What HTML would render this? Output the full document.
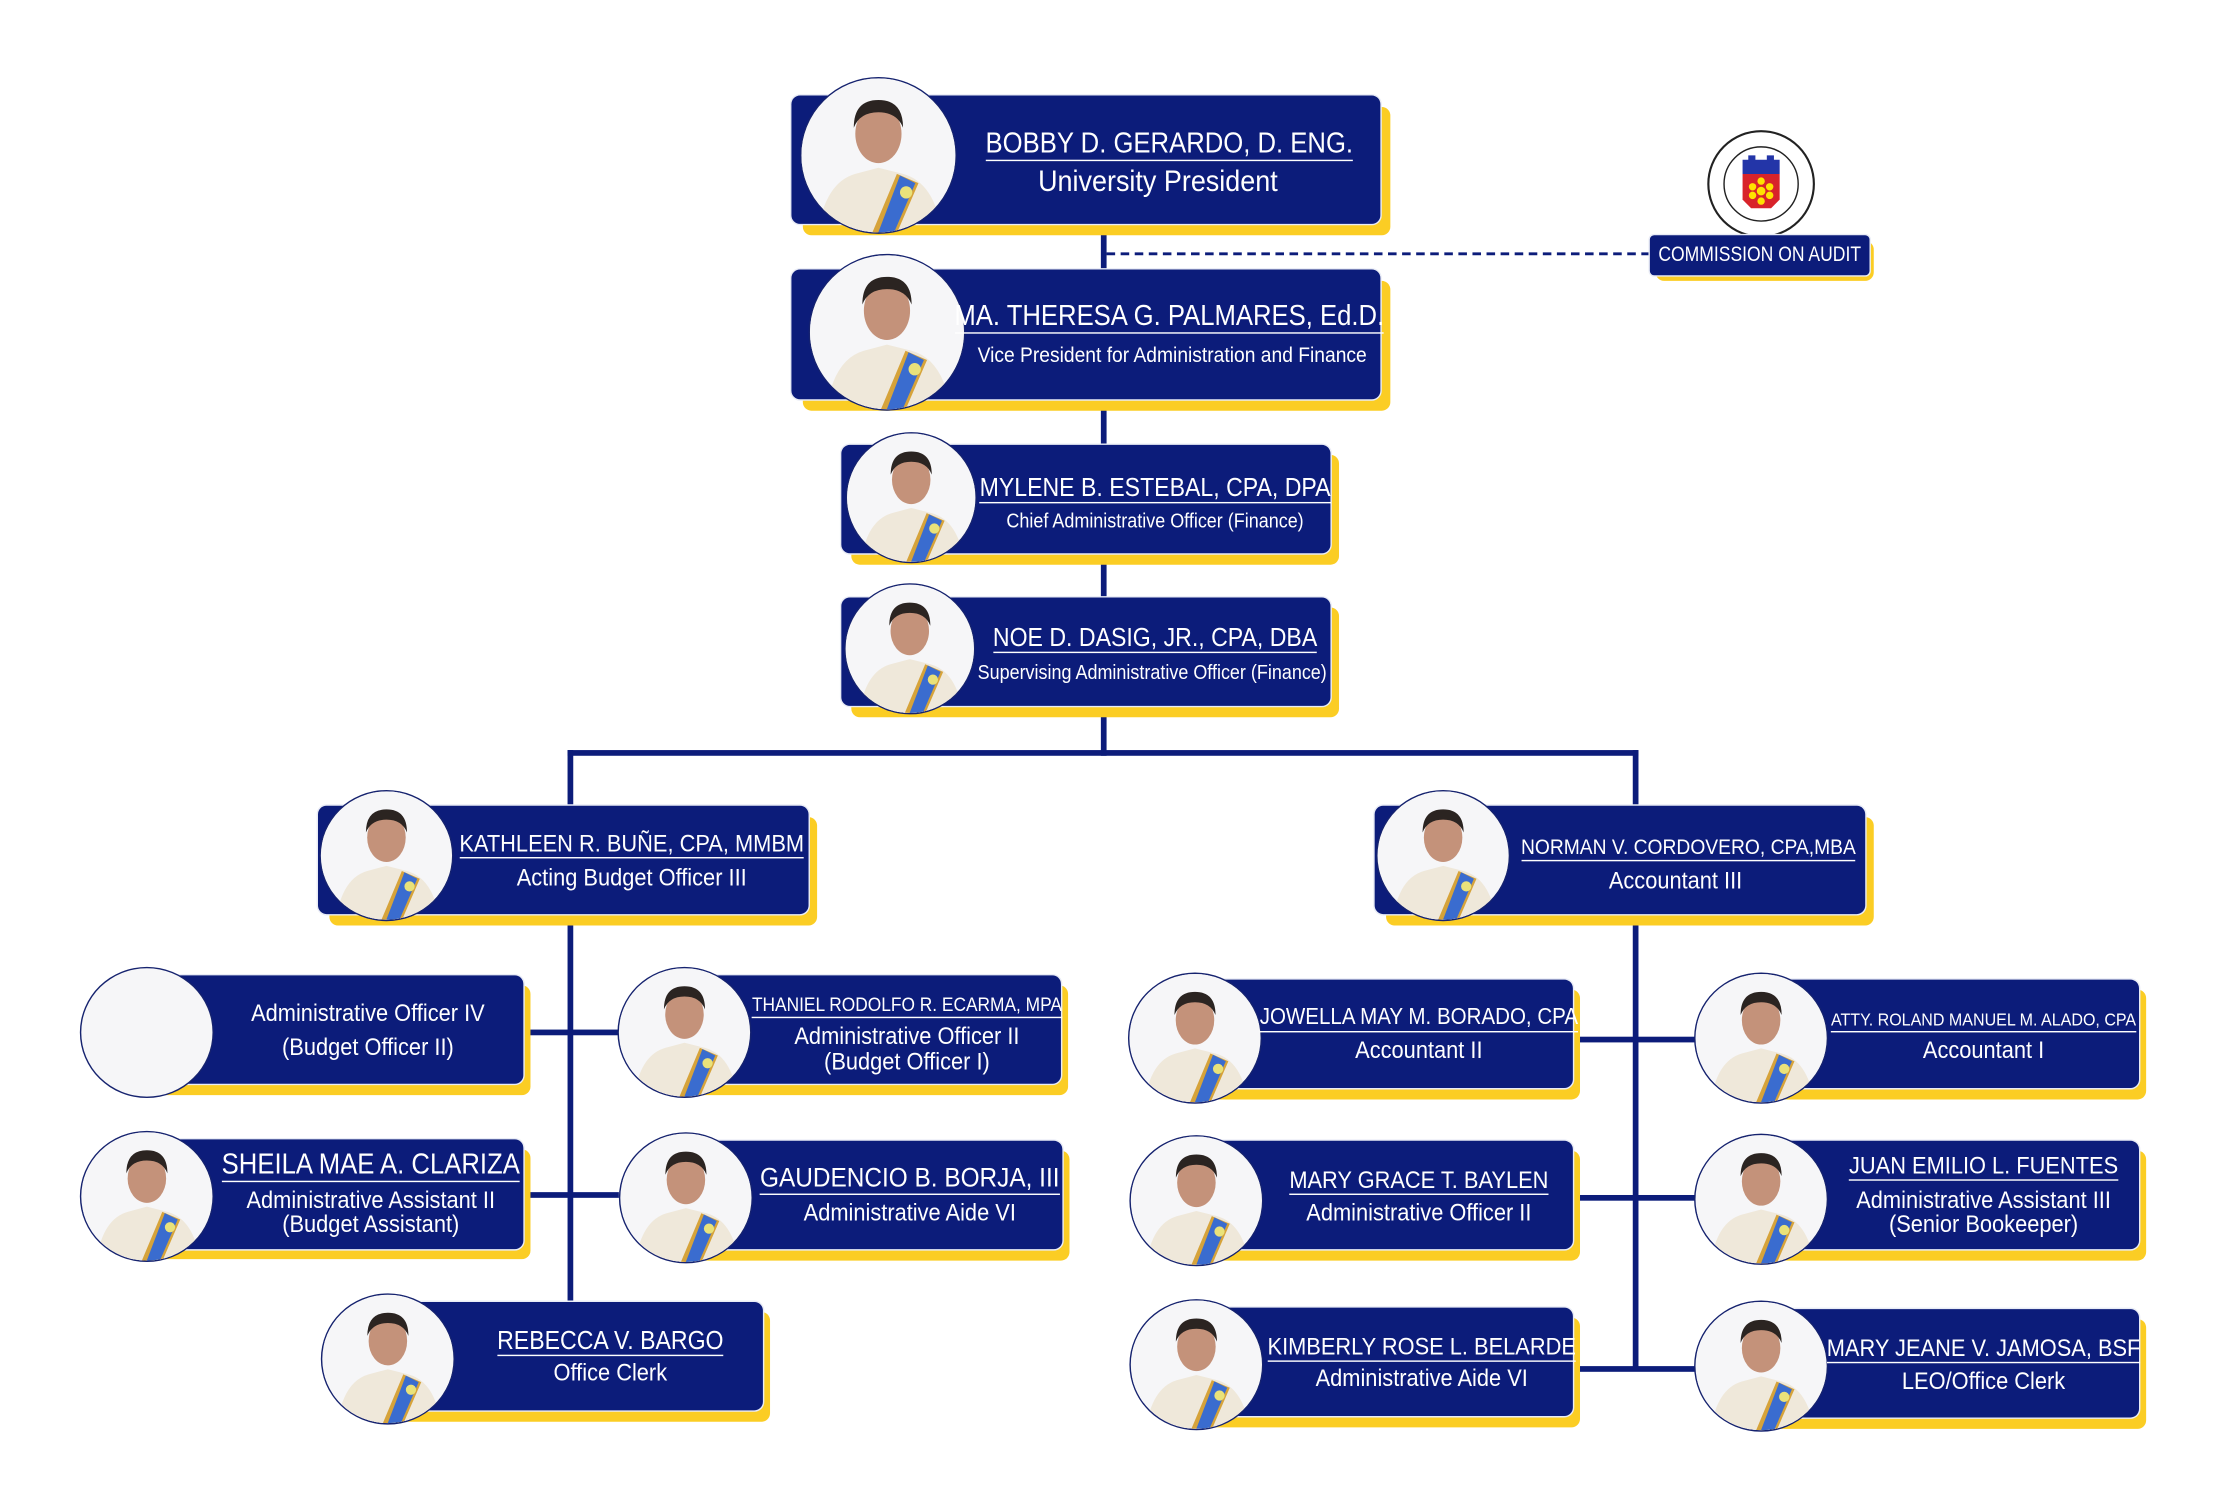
<!DOCTYPE html>
<html><head><meta charset="utf-8">
<style>
html,body{margin:0;padding:0;background:#fff;width:2238px;height:1496px;overflow:hidden}
#w{position:absolute;left:0;top:0;width:1556px;height:1040px;transform:scale(1.426);transform-origin:0 0;font-family:"Liberation Sans",sans-serif;}
.y{position:absolute;background:#fbcd24;border-radius:6px}
.c{position:absolute;background:#0c1c7a;border-radius:6px;box-shadow:0 0 0 1px #e9ecf6}
.p{position:absolute;border-radius:50%;border:1.5px solid #16236f;background:#f6f6f8;overflow:hidden;box-sizing:border-box}
.p svg{width:100%;height:100%;display:block}
.t{position:absolute;width:440px;margin-left:-220px;text-align:center;white-space:nowrap;color:#fff;line-height:1;transform:scaleX(0.9);transform-origin:50% 0}
.n span{display:inline-block;border-bottom:1.3px solid #fff;padding-bottom:1px}
.l{position:absolute;background:#0c1c7a}
</style></head><body>
<svg width="0" height="0" style="position:absolute">
<defs>
<symbol id="ph" viewBox="0 0 100 100">
<rect width="100" height="100" fill="#f6f6f8"/>
<path d="M10 105 Q14 68 35 62 L50 58 L66 62 Q88 68 92 105 Z" fill="#efe8da"/>
<ellipse cx="50" cy="36" rx="15" ry="19" fill="#c4927a"/>
<path d="M34 32 Q34 14 50 14 Q66 14 66 32 Q62 22 50 22 Q38 22 34 32 Z" fill="#2b2421"/>
<path d="M62 62 L76 68 L60 105 L44 105 Z" fill="#d6a33a"/>
<path d="M64 63 L74 68 L58 105 L48 105 Z" fill="#3a6ccf"/>
<circle cx="68" cy="74" r="4" fill="#e9e27a"/>
</symbol>
</defs></svg>
<div id="w">
<!-- lines -->
<div class="l" style="left:772px;top:157px;width:4px;height:373px"></div>
<div style="position:absolute;left:776px;top:177px;width:381px;border-top:2.5px dashed #0c1c7a"></div>
<div class="l" style="left:398px;top:526px;width:751px;height:4px"></div>
<div class="l" style="left:398px;top:526px;width:4px;height:42px"></div>
<div class="l" style="left:1145px;top:526px;width:4px;height:42px"></div>
<div class="l" style="left:398px;top:640px;width:4px;height:272px"></div>
<div class="l" style="left:370px;top:722px;width:64px;height:4px"></div>
<div class="l" style="left:370px;top:836px;width:64px;height:4px"></div>
<div class="l" style="left:1145px;top:640px;width:4px;height:321px"></div>
<div class="l" style="left:1105px;top:727px;width:85px;height:4px"></div>
<div class="l" style="left:1105px;top:838px;width:85px;height:4px"></div>
<div class="l" style="left:1105px;top:958px;width:85px;height:4px"></div>

<!-- President -->
<div class="y" style="left:563px;top:75px;width:412px;height:90px"></div>
<div class="c" style="left:555px;top:67px;width:413px;height:90px"></div>
<div class="p" style="left:561px;top:54px;width:110px;height:110px"><svg><use href="#ph"/></svg></div>
<div class="t n" style="left:820px;top:91px;font-size:20px"><span>BOBBY D. GERARDO, D. ENG.</span></div>
<div class="t" style="left:812px;top:117px;font-size:21px">University President</div>

<!-- COA -->
<svg style="position:absolute;left:1196px;top:90px" width="78" height="78" viewBox="0 0 78 78">
<circle cx="39" cy="39" r="37" fill="#fff" stroke="#222" stroke-width="1.5"/>
<circle cx="39" cy="39" r="26" fill="#fff" stroke="#222" stroke-width="1"/>
<path d="M26 22 L30 22 L30 19 L35 19 L35 22 L43 22 L43 19 L48 19 L48 22 L52 22 L52 32 L26 32 Z" fill="#2335a8"/>
<path d="M26 32 L52 32 L52 50 L46 56 L32 56 L26 50 Z" fill="#d8232a"/>
<circle cx="39" cy="44" r="3" fill="#ffe200"/><circle cx="33" cy="41" r="2.6" fill="#ffe200"/><circle cx="45" cy="41" r="2.6" fill="#ffe200"/><circle cx="33" cy="47" r="2.6" fill="#ffe200"/><circle cx="45" cy="47" r="2.6" fill="#ffe200"/><circle cx="39" cy="37" r="2.6" fill="#ffe200"/><circle cx="39" cy="51" r="2.6" fill="#ffe200"/>
</svg>
<div class="y" style="left:1161px;top:169px;width:153px;height:28px"></div>
<div class="c" style="left:1157px;top:165px;width:154px;height:28px;border-radius:3px"></div>
<div class="t" style="left:1234px;top:171px;font-size:15px;transform:scaleX(0.82)">COMMISSION ON AUDIT</div>

<!-- VP -->
<div class="y" style="left:563px;top:197px;width:412px;height:91px"></div>
<div class="c" style="left:555px;top:189px;width:413px;height:91px"></div>
<div class="p" style="left:567px;top:178px;width:110px;height:110px"><svg><use href="#ph"/></svg></div>
<div class="t n" style="left:820px;top:212px;font-size:20px"><span>MA. THERESA G. PALMARES, Ed.D.</span></div>
<div class="t" style="left:822px;top:242px;font-size:15px">Vice President for Administration and Finance</div>

<!-- Mylene -->
<div class="y" style="left:597px;top:319px;width:342px;height:77px"></div>
<div class="c" style="left:590px;top:312px;width:343px;height:76px"></div>
<div class="p" style="left:593px;top:303px;width:92px;height:92px"><svg><use href="#ph"/></svg></div>
<div class="t n" style="left:810px;top:333px;font-size:18px"><span>MYLENE B. ESTEBAL, CPA, DPA</span></div>
<div class="t" style="left:810px;top:358px;font-size:14px">Chief Administrative Officer (Finance)</div>

<!-- Noe -->
<div class="y" style="left:597px;top:426px;width:342px;height:77px"></div>
<div class="c" style="left:590px;top:419px;width:343px;height:76px"></div>
<div class="p" style="left:592px;top:409px;width:92px;height:92px"><svg><use href="#ph"/></svg></div>
<div class="t n" style="left:810px;top:438px;font-size:18px"><span>NOE D. DASIG, JR., CPA, DBA</span></div>
<div class="t" style="left:808px;top:464px;font-size:14px">Supervising Administrative Officer (Finance)</div>

<!-- Kathleen -->
<div class="y" style="left:231px;top:573px;width:342px;height:76px"></div>
<div class="c" style="left:223px;top:565px;width:344px;height:76px"></div>
<div class="p" style="left:224px;top:554px;width:94px;height:92px"><svg><use href="#ph"/></svg></div>
<div class="t n" style="left:443px;top:583px;font-size:17px"><span>KATHLEEN R. BUÑE, CPA, MMBM</span></div>
<div class="t" style="left:443px;top:607px;font-size:17px">Acting Budget Officer III</div>

<!-- Norman -->
<div class="y" style="left:972px;top:573px;width:342px;height:76px"></div>
<div class="c" style="left:964px;top:565px;width:344px;height:76px"></div>
<div class="p" style="left:965px;top:554px;width:94px;height:92px"><svg><use href="#ph"/></svg></div>
<div class="t n" style="left:1184px;top:587px;font-size:15px"><span>NORMAN V. CORDOVERO, CPA,MBA</span></div>
<div class="t" style="left:1175px;top:609px;font-size:17px">Accountant III</div>

<!-- Admin Officer IV -->
<div class="y" style="left:106px;top:691px;width:266px;height:77px"></div>
<div class="c" style="left:100px;top:684px;width:267px;height:76px"></div>
<div class="p" style="left:56px;top:678px;width:94px;height:92px"></div>
<div class="t" style="left:258px;top:702px;font-size:17px">Administrative Officer IV</div>
<div class="t" style="left:258px;top:726px;font-size:17px">(Budget Officer II)</div>

<!-- Thaniel -->
<div class="y" style="left:486px;top:691px;width:263px;height:77px"></div>
<div class="c" style="left:480px;top:684px;width:264px;height:76px"></div>
<div class="p" style="left:433px;top:678px;width:94px;height:92px"><svg><use href="#ph"/></svg></div>
<div class="t n" style="left:636px;top:698px;font-size:13.5px"><span>THANIEL RODOLFO R. ECARMA, MPA</span></div>
<div class="t" style="left:636px;top:718px;font-size:17px">Administrative Officer II</div>
<div class="t" style="left:636px;top:736px;font-size:17px">(Budget Officer I)</div>

<!-- Sheila -->
<div class="y" style="left:106px;top:806px;width:266px;height:77px"></div>
<div class="c" style="left:100px;top:799px;width:267px;height:77px"></div>
<div class="p" style="left:56px;top:793px;width:94px;height:92px"><svg><use href="#ph"/></svg></div>
<div class="t n" style="left:260px;top:807px;font-size:20px"><span>SHEILA MAE A. CLARIZA</span></div>
<div class="t" style="left:260px;top:833px;font-size:17px">Administrative Assistant II</div>
<div class="t" style="left:260px;top:850px;font-size:17px">(Budget Assistant)</div>

<!-- Gaudencio -->
<div class="y" style="left:486px;top:807px;width:264px;height:77px"></div>
<div class="c" style="left:480px;top:800px;width:265px;height:76px"></div>
<div class="p" style="left:434px;top:794px;width:94px;height:92px"><svg><use href="#ph"/></svg></div>
<div class="t n" style="left:638px;top:817px;font-size:19px"><span>GAUDENCIO B. BORJA, III</span></div>
<div class="t" style="left:638px;top:842px;font-size:17px">Administrative Aide VI</div>

<!-- Rebecca -->
<div class="y" style="left:278px;top:920px;width:262px;height:77px"></div>
<div class="c" style="left:272px;top:913px;width:263px;height:76px"></div>
<div class="p" style="left:225px;top:907px;width:94px;height:92px"><svg><use href="#ph"/></svg></div>
<div class="t n" style="left:428px;top:931px;font-size:18px"><span>REBECCA V. BARGO</span></div>
<div class="t" style="left:428px;top:954px;font-size:17px">Office Clerk</div>

<!-- Jowella -->
<div class="y" style="left:844px;top:694px;width:264px;height:77px"></div>
<div class="c" style="left:838px;top:687px;width:265px;height:76px"></div>
<div class="p" style="left:791px;top:682px;width:94px;height:92px"><svg><use href="#ph"/></svg></div>
<div class="t n" style="left:995px;top:706px;font-size:16px"><span>JOWELLA MAY M. BORADO, CPA</span></div>
<div class="t" style="left:995px;top:728px;font-size:17px">Accountant II</div>

<!-- Roland -->
<div class="y" style="left:1241px;top:694px;width:264px;height:77px"></div>
<div class="c" style="left:1235px;top:687px;width:265px;height:76px"></div>
<div class="p" style="left:1188px;top:682px;width:94px;height:92px"><svg><use href="#ph"/></svg></div>
<div class="t n" style="left:1391px;top:709px;font-size:12.5px"><span>ATTY. ROLAND MANUEL M. ALADO, CPA</span></div>
<div class="t" style="left:1391px;top:728px;font-size:17px">Accountant I</div>

<!-- Mary Grace -->
<div class="y" style="left:845px;top:807px;width:263px;height:77px"></div>
<div class="c" style="left:839px;top:800px;width:264px;height:76px"></div>
<div class="p" style="left:792px;top:796px;width:94px;height:92px"><svg><use href="#ph"/></svg></div>
<div class="t n" style="left:995px;top:819px;font-size:17px"><span>MARY GRACE T. BAYLEN</span></div>
<div class="t" style="left:995px;top:842px;font-size:17px">Administrative Officer II</div>

<!-- Juan -->
<div class="y" style="left:1241px;top:807px;width:264px;height:77px"></div>
<div class="c" style="left:1235px;top:800px;width:265px;height:76px"></div>
<div class="p" style="left:1188px;top:795px;width:94px;height:92px"><svg><use href="#ph"/></svg></div>
<div class="t n" style="left:1391px;top:809px;font-size:17px"><span>JUAN EMILIO L. FUENTES</span></div>
<div class="t" style="left:1391px;top:833px;font-size:17px">Administrative Assistant III</div>
<div class="t" style="left:1391px;top:850px;font-size:17px">(Senior Bookeeper)</div>

<!-- Kimberly -->
<div class="y" style="left:845px;top:924px;width:263px;height:77px"></div>
<div class="c" style="left:839px;top:917px;width:264px;height:76px"></div>
<div class="p" style="left:792px;top:911px;width:94px;height:92px"><svg><use href="#ph"/></svg></div>
<div class="t n" style="left:997px;top:936px;font-size:17px"><span>KIMBERLY ROSE L. BELARDE</span></div>
<div class="t" style="left:997px;top:958px;font-size:17px">Administrative Aide VI</div>

<!-- Mary Jeane -->
<div class="y" style="left:1241px;top:925px;width:264px;height:77px"></div>
<div class="c" style="left:1235px;top:918px;width:265px;height:76px"></div>
<div class="p" style="left:1188px;top:912px;width:94px;height:92px"><svg><use href="#ph"/></svg></div>
<div class="t n" style="left:1391px;top:937px;font-size:17px"><span>MARY JEANE V. JAMOSA, BSF</span></div>
<div class="t" style="left:1391px;top:960px;font-size:17px">LEO/Office Clerk</div>
</div>
</body></html>
